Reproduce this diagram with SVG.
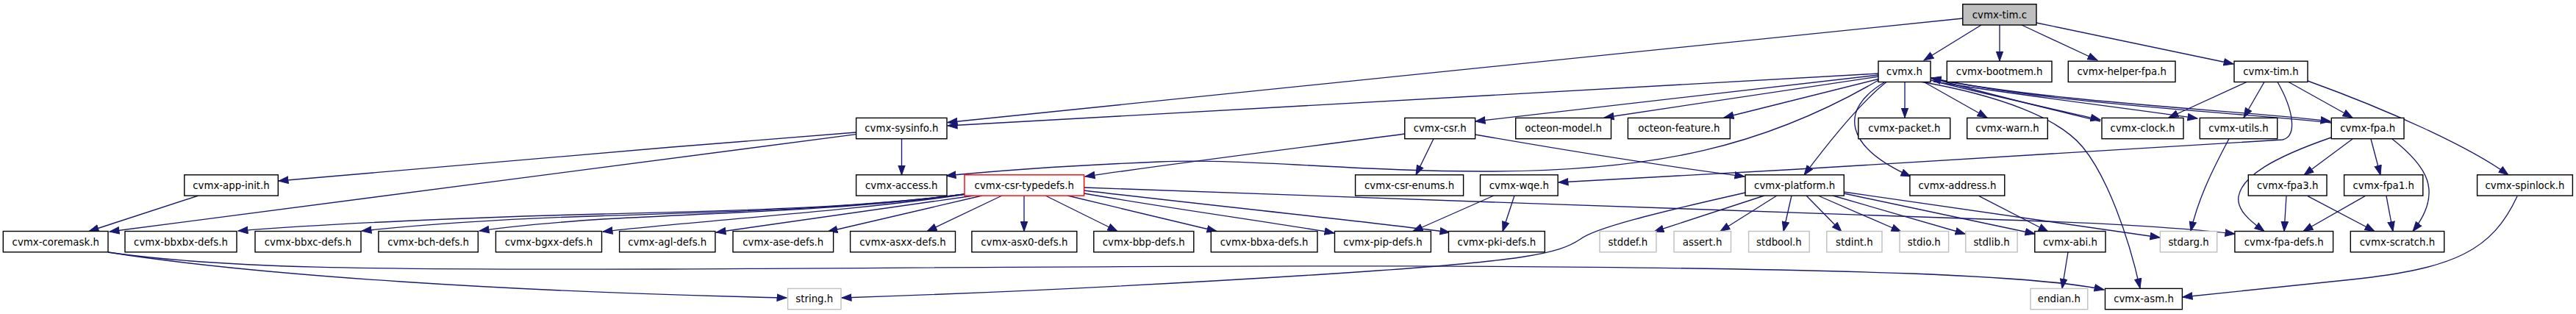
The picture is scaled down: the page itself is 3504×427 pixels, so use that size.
<svg xmlns="http://www.w3.org/2000/svg" width="3504" height="427" viewBox="0 0 3504 427">
<style>
.n rect{fill:#ffffff;stroke:#000000;stroke-width:1.4}
.g rect{stroke:#bfbfbf}
.r rect{stroke:#ff0000}
.root rect{fill:#bfbfbf}
.n text{font-family:"DejaVu Sans",sans-serif;font-size:13.33px;fill:#000000;text-anchor:middle}
.e path{fill:none;stroke:#191970;stroke-width:1.35;marker-end:url(#ah)}
</style>
<defs>
<marker id="ah" markerUnits="userSpaceOnUse" markerWidth="15" markerHeight="11" viewBox="0 0 15 11" refX="13.5" refY="5.5" orient="auto">
<path d="M0.5,0.8 L13.5,5.5 L0.5,10.2 z" fill="#191970" stroke="#191970" stroke-width="1"/>
</marker>
</defs>
<rect width="3504" height="427" fill="#ffffff"/>
<g id="edges" class="e">
<path d="M2670,25 L1289,166.5"/>
<path d="M2555,100 L1289,171"/>
<path d="M2695,34 L2617,82"/>
<path d="M2720,34 L2720,83"/>
<path d="M2750,34 L2853,82"/>
<path d="M2770,31 L3038,87"/>
<path d="M2555,102 L2007,165"/>
<path d="M2556,104 L2182,160"/>
<path d="M2557,107 L2345,160"/>
<path d="M2591,111.5 L2591,160"/>
<path d="M2617,111.5 L2703,160"/>
<path d="M2626,109 C2700,128 2800,150 2857,163"/>
<path d="M2857,165 C2800,151 2700,127 2627,106"/>
<path d="M2630,111 C2750,130 2900,148 2989,161"/>
<path d="M2627,107 C2800,140 3050,150 3170,165"/>
<path d="M3171,167 C3050,153 2800,143 2627,106"/>
<path d="M2612,111 C2720,130 2800,160 2833,200 C2866,240 2895,320 2911,392"/>
<path d="M2557,108 C2400,200 2250,232 2030,233 C1850,234 1700,215 1577,220 C1480,224 1380,230 1287,239"/>
<path d="M2566,111.5 C2530,140 2490,190 2454,238"/>
<path d="M2563,112 C2500,150 2510,200 2599,240"/>
<path d="M3056,111.5 L2950,160"/>
<path d="M3080,111.5 L3052,160"/>
<path d="M3113,111.5 L3200,160"/>
<path d="M3139,110 C3250,150 3360,200 3412,238"/>
<path d="M3098,111.5 C3120,150 3125,185 3105,190 C3050,195 2500,228 2120,248"/>
<path d="M1226.5,188.7 L1226.5,238"/>
<path d="M1164.5,180 C900,201 600,225 379,246"/>
<path d="M1164.5,182.7 C950,208 600,256 149,315"/>
<path d="M270,266 L121,314.5"/>
<path d="M1950,188.7 L1926,238"/>
<path d="M1911,182 C1800,197 1635,217 1476,240"/>
<path d="M2006.6,183 C2150,208 2280,228 2373,240"/>
<path d="M1325,266 L974,316"/>
<path d="M1312,264.5 C1150,288 950,300 820,315"/>
<path d="M1312,264 C1150,286 960,290 820,298 C760,302 700,307 652,314"/>
<path d="M1312,264 C1150,285 960,289 820,293.5 C700,297 580,305 492,314"/>
<path d="M1312,264 C1150,285 960,287 820,291 C650,295 450,304 324,314"/>
<path d="M1336,266 L1126,315"/>
<path d="M1363,266 L1261,314.5"/>
<path d="M1393,266 L1393,314.5"/>
<path d="M1422,266 L1520,314.5"/>
<path d="M1452,266 L1655,314.5"/>
<path d="M1474.6,263 C1600,285 1750,305 1815,317"/>
<path d="M1474.6,259 C1650,280 1850,300 1972,316"/>
<path d="M1474.6,255 C1800,267 2374,287 2700,298 C2850,303 2950,308 3040,318"/>
<path d="M2032,266 L1922,314.5"/>
<path d="M2060,266 L2044,314.5"/>
<path d="M2400,266 L2250,315"/>
<path d="M2417,266 L2340,314.5"/>
<path d="M2437,266 L2426,314.5"/>
<path d="M2457,266 L2505,315"/>
<path d="M2473,266 L2586,315"/>
<path d="M2493,266 L2673,318"/>
<path d="M2508,263 L2768,318"/>
<path d="M2508,261 L2938,323"/>
<path d="M2374,262 C2250,290 2170,310 2150,325 C2120,345 2080,355 1800,373 C1500,392 1300,400 1145,405"/>
<path d="M147,343 C350,375 700,397 1070,405"/>
<path d="M147,343 C300,365 500,367 900,366 C1400,364 2100,355 2600,372 C2750,378 2820,385 2862,394"/>
<path d="M2692,266.7 L2786,315"/>
<path d="M2813,343 L2805,392.4"/>
<path d="M3032,188.7 C3010,230 2990,270 2980,314.5"/>
<path d="M3171,187 C3090,215 3050,240 3045,267 C3042,285 3060,300 3080,314.5"/>
<path d="M3200,189 L3134,238"/>
<path d="M3225,189 L3238,238"/>
<path d="M3254,189 C3300,225 3325,260 3282,314.5"/>
<path d="M3110,266.7 L3107,314.5"/>
<path d="M3139,266.7 L3230,314.5"/>
<path d="M3217,266.7 L3133,314.5"/>
<path d="M3246,266.7 L3255,314.5"/>
<path d="M3424,267 C3390,340 3340,365 3200,380 C3100,390 3030,397 2969,404"/>
</g>
<g id="node-tim-c" class="n root"><rect x="2669.8" y="5.7" width="100.2" height="28.3"/><text x="2719.9" y="24.7">cvmx-tim.c</text></g>
<g id="node-cvmx-h" class="n"><rect x="2555" y="83.2" width="71" height="28.3"/><text x="2590.5" y="102.2">cvmx.h</text></g>
<g id="node-bootmem" class="n"><rect x="2648.3" y="83.2" width="142.7" height="28.3"/><text x="2719.7" y="102.2">cvmx-bootmem.h</text></g>
<g id="node-helper-fpa" class="n"><rect x="2813.3" y="83.2" width="145.7" height="28.3"/><text x="2886.2" y="102.2">cvmx-helper-fpa.h</text></g>
<g id="node-tim-h" class="n"><rect x="3039" y="83.2" width="100" height="28.3"/><text x="3089" y="102.2">cvmx-tim.h</text></g>
<g id="node-sysinfo" class="n"><rect x="1164.6" y="160.4" width="123.4" height="28.3"/><text x="1226.3" y="179.4">cvmx-sysinfo.h</text></g>
<g id="node-csr" class="n"><rect x="1910.8" y="160.4" width="95.8" height="28.3"/><text x="1958.7" y="179.4">cvmx-csr.h</text></g>
<g id="node-octeon-model" class="n"><rect x="2061.7" y="160.4" width="129.8" height="28.3"/><text x="2126.6" y="179.4">octeon-model.h</text></g>
<g id="node-octeon-feature" class="n"><rect x="2214.4" y="160.4" width="138.9" height="28.3"/><text x="2283.9" y="179.4">octeon-feature.h</text></g>
<g id="node-packet" class="n"><rect x="2527.8" y="160.4" width="124.9" height="28.3"/><text x="2590.3" y="179.4">cvmx-packet.h</text></g>
<g id="node-warn" class="n"><rect x="2675.7" y="160.4" width="109.6" height="28.3"/><text x="2730.5" y="179.4">cvmx-warn.h</text></g>
<g id="node-clock" class="n"><rect x="2859" y="160.4" width="111" height="28.3"/><text x="2914.5" y="179.4">cvmx-clock.h</text></g>
<g id="node-utils" class="n"><rect x="2992.3" y="160.4" width="105.4" height="28.3"/><text x="3045" y="179.4">cvmx-utils.h</text></g>
<g id="node-fpa" class="n"><rect x="3171.3" y="160.4" width="98.7" height="28.3"/><text x="3220.7" y="179.4">cvmx-fpa.h</text></g>
<g id="node-app-init" class="n"><rect x="250.8" y="237.8" width="127.5" height="28.3"/><text x="314.5" y="256.8">cvmx-app-init.h</text></g>
<g id="node-access" class="n"><rect x="1164.6" y="237.8" width="123.4" height="28.3"/><text x="1226.3" y="256.8">cvmx-access.h</text></g>
<g id="node-csr-typedefs" class="n r"><rect x="1312" y="237.8" width="162.6" height="28.3"/><text x="1393.3" y="256.8">cvmx-csr-typedefs.h</text></g>
<g id="node-csr-enums" class="n"><rect x="1843.6" y="237.8" width="147" height="28.3"/><text x="1917.1" y="256.8">cvmx-csr-enums.h</text></g>
<g id="node-wqe" class="n"><rect x="2013.5" y="237.8" width="105.6" height="28.3"/><text x="2066.3" y="256.8">cvmx-wqe.h</text></g>
<g id="node-platform" class="n"><rect x="2374" y="237.8" width="134.3" height="28.3"/><text x="2441.2" y="256.8">cvmx-platform.h</text></g>
<g id="node-address" class="n"><rect x="2597.9" y="237.8" width="128.9" height="28.3"/><text x="2662.4" y="256.8">cvmx-address.h</text></g>
<g id="node-fpa3" class="n"><rect x="3058.3" y="237.8" width="106.7" height="28.3"/><text x="3111.7" y="256.8">cvmx-fpa3.h</text></g>
<g id="node-fpa1" class="n"><rect x="3188.6" y="237.8" width="107.2" height="28.3"/><text x="3242.2" y="256.8">cvmx-fpa1.h</text></g>
<g id="node-spinlock" class="n"><rect x="3369.6" y="237.8" width="129.8" height="28.3"/><text x="3434.5" y="256.8">cvmx-spinlock.h</text></g>
<g id="node-coremask" class="n"><rect x="4.3" y="314.5" width="142.7" height="28.3"/><text x="75.7" y="333.5">cvmx-coremask.h</text></g>
<g id="node-bbxbx" class="n"><rect x="170" y="314.5" width="152" height="28.3"/><text x="246" y="333.5">cvmx-bbxbx-defs.h</text></g>
<g id="node-bbxc" class="n"><rect x="347" y="314.5" width="144" height="28.3"/><text x="419" y="333.5">cvmx-bbxc-defs.h</text></g>
<g id="node-bch" class="n"><rect x="514.9" y="314.5" width="135.4" height="28.3"/><text x="582.6" y="333.5">cvmx-bch-defs.h</text></g>
<g id="node-bgxx" class="n"><rect x="674.4" y="314.5" width="144.1" height="28.3"/><text x="746.5" y="333.5">cvmx-bgxx-defs.h</text></g>
<g id="node-agl" class="n"><rect x="842.6" y="314.5" width="130.3" height="28.3"/><text x="907.8" y="333.5">cvmx-agl-defs.h</text></g>
<g id="node-ase" class="n"><rect x="997" y="314.5" width="136.6" height="28.3"/><text x="1065.3" y="333.5">cvmx-ase-defs.h</text></g>
<g id="node-asxx" class="n"><rect x="1156.6" y="314.5" width="142.9" height="28.3"/><text x="1228" y="333.5">cvmx-asxx-defs.h</text></g>
<g id="node-asx0" class="n"><rect x="1321.9" y="314.5" width="142.9" height="28.3"/><text x="1393.3" y="333.5">cvmx-asx0-defs.h</text></g>
<g id="node-bbp" class="n"><rect x="1487.8" y="314.5" width="136" height="28.3"/><text x="1555.8" y="333.5">cvmx-bbp-defs.h</text></g>
<g id="node-bbxa" class="n"><rect x="1647.3" y="314.5" width="144.7" height="28.3"/><text x="1719.6" y="333.5">cvmx-bbxa-defs.h</text></g>
<g id="node-pip" class="n"><rect x="1815.5" y="314.5" width="130.9" height="28.3"/><text x="1881" y="333.5">cvmx-pip-defs.h</text></g>
<g id="node-pki" class="n"><rect x="1970.5" y="314.5" width="130.8" height="28.3"/><text x="2035.9" y="333.5">cvmx-pki-defs.h</text></g>
<g id="node-stddef" class="n g"><rect x="2176" y="314.5" width="76.9" height="28.3"/><text x="2214.4" y="333.5">stddef.h</text></g>
<g id="node-assert" class="n g"><rect x="2277" y="314.5" width="77.5" height="28.3"/><text x="2315.7" y="333.5">assert.h</text></g>
<g id="node-stdbool" class="n g"><rect x="2378.6" y="314.5" width="82.6" height="28.3"/><text x="2419.9" y="333.5">stdbool.h</text></g>
<g id="node-stdint" class="n g"><rect x="2484.8" y="314.5" width="75.2" height="28.3"/><text x="2522.4" y="333.5">stdint.h</text></g>
<g id="node-stdio" class="n g"><rect x="2584" y="314.5" width="66.6" height="28.3"/><text x="2617.3" y="333.5">stdio.h</text></g>
<g id="node-stdlib" class="n g"><rect x="2673.8" y="314.5" width="70.3" height="28.3"/><text x="2709" y="333.5">stdlib.h</text></g>
<g id="node-abi" class="n"><rect x="2767.8" y="314.5" width="96.2" height="28.3"/><text x="2815.9" y="333.5">cvmx-abi.h</text></g>
<g id="node-stdarg" class="n g"><rect x="2938.4" y="314.5" width="77.3" height="28.3"/><text x="2977" y="333.5">stdarg.h</text></g>
<g id="node-fpa-defs" class="n"><rect x="3039.9" y="314.5" width="133.7" height="28.3"/><text x="3106.7" y="333.5">cvmx-fpa-defs.h</text></g>
<g id="node-scratch" class="n"><rect x="3197.3" y="314.5" width="127.4" height="28.3"/><text x="3261" y="333.5">cvmx-scratch.h</text></g>
<g id="node-string" class="n g"><rect x="1071.6" y="392.4" width="72.4" height="28.3"/><text x="1107.8" y="411.4">string.h</text></g>
<g id="node-endian" class="n g"><rect x="2762" y="392.4" width="77.8" height="28.3"/><text x="2800.9" y="411.4">endian.h</text></g>
<g id="node-asm" class="n"><rect x="2863.5" y="392.4" width="104.9" height="28.3"/><text x="2916" y="411.4">cvmx-asm.h</text></g>
</svg>
